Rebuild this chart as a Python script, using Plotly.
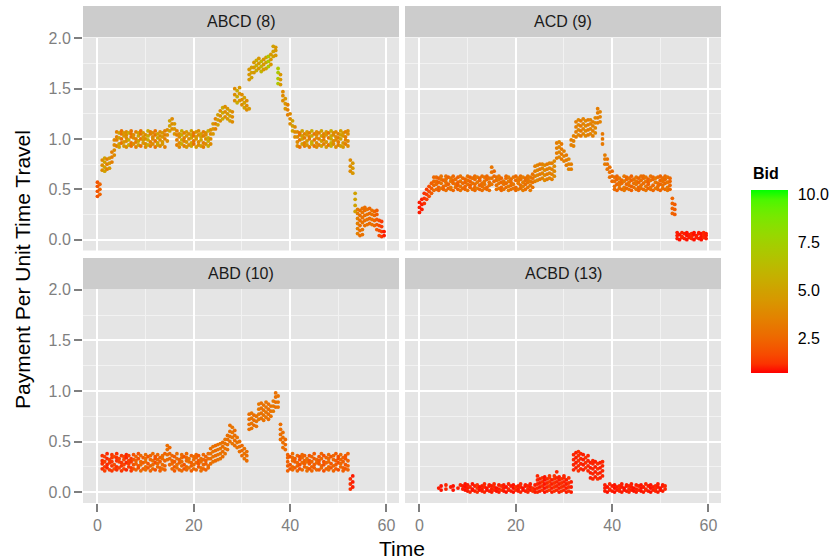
import plotly.graph_objects as go

# ---------------------------------------------------------------------------
# Observed payments per route: one row per time stamp, several agents per row
# ---------------------------------------------------------------------------
abcd_time = [
    0.0, 0.5, 1.0, 1.5, 2.0, 2.5, 3.0, 3.5,
    4.0, 4.5, 5.0, 5.5, 6.0, 6.5, 7.0, 7.5, 8.0, 8.5, 9.0, 9.5,
    10.0, 10.5, 11.0, 11.5, 12.0, 12.5, 13.0, 13.5, 14.0,
    14.5, 15.0, 15.5, 16.0, 16.5,
    17.0, 17.5, 18.0, 18.5, 19.0, 19.5, 20.0, 20.5, 21.0, 21.5,
    22.0, 22.5, 23.0, 23.5,
    24.0, 24.5, 25.0, 25.5, 26.0, 26.5, 27.0, 27.5, 28.0,
    28.5, 29.0, 29.5, 30.0, 30.5, 31.0, 31.5, 32.0, 32.5, 33.0,
    33.5, 34.0, 34.5, 35.0, 35.5, 36.0, 36.5, 37.0, 37.5, 38.0,
    38.5, 39.0, 39.5, 40.0, 40.5, 41.0,
    41.5, 42.0, 42.5, 43.0, 43.5, 44.0, 44.5, 45.0, 45.5, 46.0, 46.5,
    47.0, 47.5, 48.0, 48.5, 49.0, 49.5, 50.0, 50.5, 51.0, 51.5, 52.0,
    52.5, 53.0, 53.5,
    54.0, 54.5, 55.0, 55.5, 56.0, 56.5, 57.0, 57.5, 58.0, 58.5, 59.0, 59.5,
]
abcd_bid = [
    2.0, 2.5, 4.0, 5.0, 3.5, 4.5, 3.5, 4.0,
    3.5, 5.0, 3.0, 4.5, 4.0, 5.5, 3.0, 4.0, 3.5, 5.0, 3.0, 4.5,
    4.0, 5.5, 3.5, 4.0, 3.0, 5.0, 4.0, 4.5, 3.5,
    4.0, 5.0, 4.0, 4.5, 3.5,
    4.0, 5.5, 3.5, 4.5, 4.0, 5.0, 3.0, 4.5, 4.0, 5.0,
    3.5, 4.0, 5.5, 4.0,
    4.5, 3.5, 5.0, 4.0, 5.5, 4.0, 4.5, 5.0, 4.0,
    4.0, 5.5, 4.5, 4.0, 5.0, 4.0, 4.5, 5.0, 4.5, 5.5,
    4.5, 6.0, 4.5, 5.0, 7.0, 4.5, 5.0, 4.5, 7.0, 4.5,
    4.0, 4.5, 3.5, 4.0, 5.0, 4.0,
    4.0, 3.0, 5.0, 3.5, 4.5, 3.5, 5.5, 3.0, 4.0, 3.5, 5.0,
    3.5, 4.5, 3.0, 5.5, 4.0, 4.0, 3.5, 5.0, 4.5, 3.5, 4.0,
    4.0, 4.5, 5.0,
    3.5, 2.8, 3.0, 2.8, 3.0, 2.6, 3.0, 2.6, 2.2, 1.8, 1.4, 1.0,
]
abcd_pay = [
    [0.43, 0.48, 0.53, 0.57], [0.45, 0.50, 0.55], [0.69, 0.74, 0.79], [0.68, 0.72, 0.77, 0.81],
    [0.70, 0.75, 0.80], [0.71, 0.76, 0.81], [0.77, 0.82, 0.87], [0.84, 0.89, 0.94, 0.99],
    [0.93, 0.99, 1.02, 1.07], [0.92, 0.95, 1.01, 1.06], [0.96, 1.00, 1.05, 1.08], [0.93, 0.97, 1.03, 1.06],
    [0.92, 0.98, 1.01, 1.04, 1.07], [0.94, 0.99, 1.06], [0.93, 0.96, 1.02, 1.05, 1.08], [0.95, 1.01, 1.04],
    [0.92, 0.97, 1.00, 1.07], [0.94, 0.98, 1.03, 1.06], [0.93, 1.00, 1.05, 1.08], [0.96, 0.99, 1.02, 1.06],
    [0.92, 0.95, 1.00, 1.04], [0.94, 0.99, 1.03, 1.08], [0.93, 0.97, 1.05, 1.07], [0.95, 1.00, 1.02, 1.06],
    [0.92, 0.98, 1.04, 1.08], [0.94, 0.96, 1.01, 1.05], [0.93, 0.99, 1.03, 1.07], [0.95, 0.97, 1.02, 1.06],
    [0.92, 1.00, 1.04, 1.08],
    [0.98, 1.04, 1.09], [1.08, 1.13, 1.18], [1.10, 1.15, 1.20], [1.05, 1.10, 1.15], [0.94, 0.99, 1.04, 1.08],
    [0.92, 0.96, 1.02, 1.05], [0.95, 0.99, 1.04, 1.08], [0.93, 0.98, 1.01, 1.06], [0.92, 0.97, 1.03, 1.07],
    [0.94, 1.00, 1.05], [0.93, 0.96, 1.01, 1.04, 1.08], [0.95, 0.98, 1.03, 1.06], [0.92, 1.00, 1.02, 1.07],
    [0.94, 0.97, 1.04, 1.08], [0.93, 0.99, 1.02, 1.05],
    [0.92, 0.96, 1.03, 1.07], [0.95, 1.00, 1.04, 1.06], [0.93, 0.98, 1.01, 1.08], [0.95, 1.00, 1.05, 1.09],
    [1.05, 1.10, 1.15], [1.10, 1.15, 1.20], [1.14, 1.19, 1.24], [1.18, 1.23, 1.28], [1.20, 1.26, 1.31],
    [1.22, 1.27, 1.32], [1.20, 1.25, 1.30], [1.18, 1.23, 1.28], [1.17, 1.22, 1.27],
    [1.38, 1.44, 1.50], [1.36, 1.42, 1.48], [1.38, 1.45, 1.51], [1.34, 1.39, 1.44], [1.31, 1.36, 1.41],
    [1.29, 1.33, 1.38], [1.30, 1.59, 1.64, 1.69], [1.61, 1.66, 1.71], [1.66, 1.71, 1.76], [1.68, 1.73, 1.78],
    [1.70, 1.75, 1.80], [1.67, 1.72, 1.77], [1.69, 1.74, 1.79], [1.70, 1.76, 1.81], [1.72, 1.77, 1.82],
    [1.74, 1.79, 1.84], [1.82, 1.87, 1.92], [1.83, 1.88, 1.91], [1.55, 1.60, 1.66, 1.70], [1.54, 1.59, 1.64],
    [1.38, 1.43, 1.47], [1.30, 1.35, 1.40], [1.24, 1.29, 1.34], [1.15, 1.20, 1.25], [1.08, 1.13, 1.18],
    [1.02, 1.07, 1.12],
    [0.93, 0.97, 1.02, 1.07], [0.92, 0.99, 1.04, 1.06], [0.95, 1.00, 1.03, 1.08], [0.93, 0.96, 1.01, 1.05],
    [0.94, 0.98, 1.04, 1.07], [0.92, 1.00, 1.02, 1.06], [0.95, 0.97, 1.03, 1.08], [0.93, 0.99, 1.05],
    [0.92, 0.96, 1.01, 1.04, 1.07], [0.94, 1.00, 1.06], [0.93, 0.98, 1.03, 1.08],
    [0.95, 0.99, 1.02, 1.05], [0.92, 0.97, 1.04, 1.07], [0.94, 1.01, 1.06], [0.93, 0.96, 1.00, 1.03, 1.08],
    [0.95, 0.98, 1.04, 1.06], [0.92, 0.99, 1.02, 1.07], [0.94, 0.97, 1.01, 1.05], [0.93, 1.00, 1.04, 1.08],
    [0.92, 0.96, 1.03, 1.06], [0.95, 0.99, 1.02, 1.07], [0.93, 0.98, 1.05, 1.08],
    [0.68, 0.73, 0.79], [0.66, 0.71, 0.76], [0.28, 0.34, 0.40, 0.46],
    [0.06, 0.11, 0.16, 0.21, 0.26, 0.30], [0.04, 0.09, 0.14, 0.19, 0.24, 0.29],
    [0.05, 0.10, 0.17, 0.22, 0.27, 0.31], [0.14, 0.19, 0.24, 0.29, 0.32], [0.15, 0.20, 0.25, 0.30],
    [0.16, 0.21, 0.26, 0.31], [0.15, 0.20, 0.25, 0.29], [0.14, 0.19, 0.24, 0.28],
    [0.10, 0.15, 0.20, 0.25, 0.29], [0.04, 0.09, 0.14, 0.19], [0.03, 0.08, 0.13, 0.18], [0.04, 0.08],
]

acd_time = [
    0.0, 0.5, 1.0, 1.5, 2.0, 2.5, 3.0,
    3.5, 4.0, 4.5, 5.0, 5.5, 6.0, 6.5, 7.0, 7.5, 8.0, 8.5, 9.0,
    9.5, 10.0, 10.5, 11.0, 11.5, 12.0, 12.5, 13.0, 13.5, 14.0, 14.5,
    15.0, 15.5,
    16.0, 16.5, 17.0, 17.5, 18.0, 18.5, 19.0, 19.5,
    20.0, 20.5, 21.0, 21.5, 22.0, 22.5, 23.0, 23.5,
    24.0, 24.5, 25.0, 25.5, 26.0, 26.5, 27.0, 27.5, 28.0,
    28.5, 29.0, 29.5, 30.0, 30.5, 31.0, 31.5, 32.0,
    32.5, 33.0, 33.5, 34.0, 34.5, 35.0, 35.5, 36.0, 36.5, 37.0, 37.5,
    38.0, 38.5, 39.0, 39.5, 40.0,
    40.5, 41.0, 41.5, 42.0, 42.5, 43.0, 43.5, 44.0, 44.5, 45.0, 45.5, 46.0,
    46.5, 47.0, 47.5, 48.0, 48.5, 49.0, 49.5, 50.0, 50.5, 51.0, 51.5, 52.0,
    52.5, 53.0,
    53.5, 54.0, 54.5, 55.0, 55.5, 56.0, 56.5, 57.0, 57.5, 58.0, 58.5, 59.0, 59.5,
]
acd_bid = [
    1.0, 1.0, 1.2, 1.4, 1.8, 2.2, 2.6,
    2.7, 2.3, 3.0, 2.5, 2.9, 2.4, 3.1, 2.6, 2.8, 2.3, 3.0, 2.7,
    2.5, 3.0, 2.4, 2.9, 2.7, 3.2, 2.5, 2.8, 3.0, 2.6, 2.9,
    3.1, 2.7,
    2.9, 3.2, 2.6, 3.0, 2.7, 3.3, 2.8, 3.1,
    2.7, 3.2, 2.9, 3.4, 2.8, 3.1, 3.3, 3.0,
    3.4, 3.8, 3.2, 3.6, 4.0, 3.3, 3.7, 3.5, 3.9,
    3.4, 3.8, 3.2, 3.6, 3.3, 3.7, 3.5, 3.6,
    3.4, 3.8, 3.2, 3.6, 3.9, 3.3, 3.7, 3.5, 3.8, 3.4, 3.6,
    3.2, 3.4, 3.0, 2.9, 2.7,
    2.9, 2.5, 3.1, 2.7, 3.2, 2.6, 3.0, 2.4, 2.8, 3.1, 2.5, 2.9,
    2.7, 3.1, 2.4, 3.0, 2.6, 3.2, 2.8, 2.5, 2.9, 2.7, 3.1, 2.6,
    2.5, 2.2,
    1.0, 0.9, 1.1, 1.0, 0.9, 1.0, 1.1, 0.9, 1.0, 1.0, 0.9, 1.1, 1.0,
]
acd_pay = [
    [0.27, 0.32, 0.37], [0.30, 0.35, 0.40], [0.36, 0.41, 0.46], [0.40, 0.45, 0.50],
    [0.43, 0.48, 0.53], [0.46, 0.51, 0.56], [0.49, 0.54, 0.58, 0.62],
    [0.50, 0.55, 0.58, 0.62], [0.49, 0.52, 0.57, 0.61], [0.51, 0.56, 0.60, 0.63], [0.50, 0.53, 0.59],
    [0.49, 0.54, 0.57, 0.60, 0.63], [0.51, 0.55, 0.62], [0.50, 0.52, 0.58, 0.61], [0.49, 0.56, 0.59, 0.63],
    [0.52, 0.55, 0.60], [0.50, 0.54, 0.57, 0.62], [0.49, 0.53, 0.58, 0.63], [0.51, 0.56, 0.61],
    [0.50, 0.53, 0.57, 0.60], [0.49, 0.55, 0.59, 0.63], [0.52, 0.54, 0.58, 0.62], [0.50, 0.56, 0.61],
    [0.49, 0.52, 0.55, 0.60, 0.63], [0.51, 0.57, 0.62], [0.50, 0.54, 0.59, 0.61], [0.49, 0.53, 0.56, 0.63],
    [0.51, 0.55, 0.58, 0.62], [0.50, 0.52, 0.60, 0.63], [0.49, 0.54, 0.57, 0.61],
    [0.55, 0.61, 0.67, 0.72], [0.58, 0.63, 0.68],
    [0.50, 0.54, 0.59, 0.62], [0.51, 0.56, 0.60, 0.63], [0.49, 0.52, 0.57, 0.61], [0.50, 0.55, 0.58],
    [0.52, 0.56, 0.61, 0.63], [0.49, 0.53, 0.58, 0.62], [0.50, 0.54, 0.57, 0.60], [0.51, 0.55, 0.62],
    [0.49, 0.52, 0.59, 0.63], [0.50, 0.56, 0.58, 0.61], [0.51, 0.54, 0.60, 0.63], [0.49, 0.53, 0.57, 0.62],
    [0.50, 0.55, 0.59, 0.61], [0.52, 0.57, 0.60, 0.63], [0.49, 0.54, 0.58, 0.62], [0.52, 0.57, 0.61, 0.65],
    [0.58, 0.63, 0.68, 0.73], [0.59, 0.64, 0.69, 0.74], [0.60, 0.65, 0.70, 0.75], [0.61, 0.66, 0.71, 0.75],
    [0.59, 0.64, 0.69, 0.74], [0.60, 0.65, 0.70, 0.75], [0.61, 0.66, 0.71, 0.76], [0.60, 0.65, 0.70, 0.76],
    [0.63, 0.68, 0.73, 0.78],
    [0.81, 0.86, 0.91, 0.96], [0.82, 0.87, 0.92, 0.97], [0.80, 0.85, 0.90, 0.95], [0.78, 0.83, 0.88],
    [0.74, 0.79, 0.84], [0.70, 0.75, 0.80], [0.70, 0.75, 0.94, 0.99], [0.93, 0.98, 1.03],
    [1.02, 1.07, 1.12, 1.17], [1.04, 1.09, 1.14, 1.19], [1.03, 1.08, 1.13, 1.18], [1.05, 1.10, 1.15, 1.20],
    [1.03, 1.08, 1.13, 1.18], [1.04, 1.09, 1.14, 1.19], [1.05, 1.10, 1.15, 1.19], [1.03, 1.08, 1.13, 1.17],
    [1.06, 1.11, 1.16, 1.21], [1.16, 1.21, 1.26, 1.30], [1.17, 1.22, 1.27],
    [0.95, 1.00, 1.05], [0.75, 0.80, 0.84], [0.70, 0.75, 0.80], [0.62, 0.67, 0.72], [0.58, 0.63, 0.68],
    [0.50, 0.53, 0.58, 0.62], [0.49, 0.55, 0.60, 0.63], [0.51, 0.54, 0.57, 0.61], [0.50, 0.56, 0.59],
    [0.49, 0.52, 0.58, 0.63], [0.51, 0.55, 0.60, 0.62], [0.50, 0.54, 0.57, 0.61], [0.49, 0.53, 0.59, 0.63],
    [0.52, 0.56, 0.60], [0.50, 0.55, 0.58, 0.62], [0.49, 0.52, 0.57, 0.61], [0.51, 0.54, 0.59, 0.63],
    [0.50, 0.56, 0.61, 0.63], [0.49, 0.53, 0.58, 0.62], [0.51, 0.55, 0.57, 0.60], [0.50, 0.52, 0.59, 0.63],
    [0.49, 0.54, 0.60, 0.62], [0.51, 0.57, 0.61], [0.50, 0.53, 0.56, 0.62], [0.49, 0.55, 0.59, 0.63],
    [0.51, 0.54, 0.58, 0.61], [0.50, 0.56, 0.60, 0.63], [0.49, 0.52, 0.57, 0.62], [0.50, 0.54, 0.58, 0.61],
    [0.26, 0.31, 0.36, 0.41], [0.25, 0.30, 0.35],
    [0.01, 0.04, 0.07], [0.00, 0.05], [0.02, 0.03, 0.07], [0.01, 0.06], [0.00, 0.04, 0.07],
    [0.02, 0.05], [0.01, 0.03, 0.06], [0.00, 0.05, 0.07], [0.02, 0.04], [0.01, 0.06, 0.07],
    [0.00, 0.03, 0.06], [0.02, 0.05, 0.07], [0.01, 0.04, 0.06],
]

abd_time = [
    1.0, 1.5, 2.0, 2.5, 3.0, 3.5, 4.0, 4.5, 5.0, 5.5, 6.0, 6.5, 7.0, 7.5,
    8.0, 8.5, 9.0, 9.5, 10.0, 10.5, 11.0, 11.5, 12.0, 12.5, 13.0, 13.5, 14.0,
    14.5, 15.0,
    15.5, 16.0, 16.5, 17.0, 17.5, 18.0, 18.5, 19.0, 19.5, 20.0, 20.5, 21.0, 21.5, 22.0, 22.5, 23.0,
    23.5, 24.0, 24.5, 25.0, 25.5, 26.0, 26.5, 27.0,
    27.5, 28.0, 28.5, 29.0, 29.5, 30.0, 30.5, 31.0,
    31.5, 32.0, 32.5, 33.0, 33.5, 34.0, 34.5, 35.0, 35.5, 36.0, 36.5, 37.0, 37.5,
    38.0, 38.5, 39.0,
    39.5, 40.0, 40.5, 41.0, 41.5, 42.0, 42.5, 43.0, 43.5, 44.0, 44.5, 45.0, 45.5,
    46.0, 46.5, 47.0, 47.5, 48.0, 48.5, 49.0, 49.5, 50.0, 50.5, 51.0, 51.5, 52.0,
    52.5, 53.0,
]
abd_bid = [
    1.2, 1.5, 1.1, 1.4, 1.3, 1.7, 1.2, 1.5, 1.3, 1.6, 1.1, 1.5, 1.4, 1.9,
    2.4, 1.8, 2.6, 2.2, 2.8, 2.0, 2.5, 2.7, 1.9, 2.6, 2.3, 2.8, 2.4,
    2.8, 2.6,
    2.6, 2.2, 2.8, 2.4, 2.7, 2.0, 2.6, 2.9, 2.3, 2.7, 2.5, 2.1, 2.8, 2.6, 2.4, 2.7,
    2.8, 3.0, 2.7, 2.9, 3.1, 2.8, 3.0, 2.9,
    2.9, 3.1, 2.8, 3.0, 2.9, 2.7, 3.0, 2.8,
    2.9, 3.1, 2.8, 3.0, 3.2, 2.9, 3.0, 3.1, 2.8, 3.0, 3.2, 2.9, 3.0,
    2.8, 2.9, 2.7,
    2.4, 2.0, 2.7, 2.2, 2.5, 1.8, 2.6, 2.3, 2.8, 2.0, 2.5, 2.2, 2.6,
    2.1, 2.6, 1.9, 2.4, 2.7, 2.0, 2.5, 2.2, 1.8, 2.6, 2.3, 2.0, 2.4,
    1.2, 1.0,
]
abd_pay = [
    [0.23, 0.28, 0.31, 0.36], [0.21, 0.25, 0.30, 0.35], [0.24, 0.27, 0.33, 0.38], [0.22, 0.29, 0.32],
    [0.21, 0.26, 0.30, 0.34, 0.37], [0.23, 0.27, 0.35], [0.22, 0.25, 0.31, 0.34, 0.38], [0.24, 0.30, 0.33],
    [0.21, 0.26, 0.29, 0.36], [0.23, 0.27, 0.32, 0.35], [0.22, 0.29, 0.34, 0.37], [0.25, 0.28, 0.31, 0.36],
    [0.21, 0.24, 0.30, 0.33], [0.23, 0.27, 0.32, 0.37],
    [0.22, 0.28, 0.31, 0.35], [0.24, 0.26, 0.33, 0.38], [0.21, 0.27, 0.30, 0.36], [0.23, 0.29, 0.34],
    [0.22, 0.25, 0.30, 0.33, 0.37], [0.24, 0.28, 0.35], [0.21, 0.26, 0.32, 0.36], [0.23, 0.27, 0.31, 0.38],
    [0.22, 0.29, 0.33, 0.35], [0.25, 0.28, 0.32, 0.37], [0.21, 0.24, 0.30, 0.34], [0.23, 0.27, 0.33, 0.36],
    [0.22, 0.26, 0.31, 0.38],
    [0.32, 0.37, 0.42, 0.46], [0.27, 0.33, 0.38, 0.44],
    [0.23, 0.28, 0.31, 0.36], [0.21, 0.25, 0.30, 0.35], [0.24, 0.27, 0.33, 0.38], [0.22, 0.29, 0.32],
    [0.21, 0.26, 0.30, 0.34, 0.37], [0.23, 0.27, 0.35], [0.22, 0.25, 0.31, 0.34, 0.38], [0.24, 0.30, 0.33],
    [0.21, 0.26, 0.29, 0.36], [0.23, 0.27, 0.32, 0.35], [0.22, 0.29, 0.34, 0.37], [0.25, 0.28, 0.31, 0.36],
    [0.21, 0.24, 0.30, 0.33], [0.23, 0.27, 0.32, 0.37], [0.22, 0.28, 0.31, 0.35], [0.24, 0.26, 0.33, 0.38],
    [0.28, 0.33, 0.38, 0.43], [0.30, 0.35, 0.40, 0.45], [0.31, 0.36, 0.41, 0.46], [0.32, 0.37, 0.42, 0.47],
    [0.33, 0.38, 0.43, 0.48], [0.35, 0.40, 0.45, 0.49], [0.38, 0.43, 0.48, 0.52], [0.42, 0.47, 0.52, 0.56],
    [0.50, 0.55, 0.60, 0.66], [0.48, 0.54, 0.59, 0.64], [0.46, 0.51, 0.56, 0.61], [0.44, 0.49, 0.54],
    [0.40, 0.45, 0.50], [0.36, 0.41, 0.46], [0.33, 0.38, 0.43], [0.31, 0.36, 0.40],
    [0.62, 0.67, 0.72, 0.77], [0.63, 0.68, 0.73, 0.78], [0.66, 0.71, 0.76], [0.65, 0.70, 0.75],
    [0.72, 0.77, 0.82, 0.87], [0.73, 0.78, 0.83, 0.88], [0.71, 0.76, 0.81, 0.86], [0.74, 0.79, 0.84, 0.89],
    [0.72, 0.77, 0.82, 0.87], [0.75, 0.80, 0.85], [0.80, 0.85, 0.90], [0.84, 0.89, 0.94, 0.98],
    [0.84, 0.89, 0.95],
    [0.52, 0.57, 0.62, 0.67], [0.44, 0.49, 0.54, 0.59], [0.42, 0.47, 0.52],
    [0.21, 0.26, 0.30, 0.34, 0.37], [0.23, 0.27, 0.35], [0.22, 0.25, 0.31, 0.34, 0.38], [0.24, 0.30, 0.33],
    [0.21, 0.26, 0.29, 0.36], [0.23, 0.27, 0.32, 0.35], [0.22, 0.29, 0.34, 0.37], [0.25, 0.28, 0.31, 0.36],
    [0.21, 0.24, 0.30, 0.33], [0.23, 0.28, 0.31, 0.36], [0.21, 0.25, 0.30, 0.35], [0.24, 0.27, 0.33, 0.38],
    [0.22, 0.29, 0.32],
    [0.22, 0.28, 0.31, 0.35], [0.24, 0.26, 0.33, 0.38], [0.21, 0.27, 0.30, 0.36], [0.23, 0.29, 0.34],
    [0.22, 0.25, 0.30, 0.33, 0.37], [0.24, 0.28, 0.35], [0.21, 0.26, 0.32, 0.36], [0.23, 0.27, 0.31, 0.38],
    [0.22, 0.29, 0.33, 0.35], [0.25, 0.28, 0.32, 0.37], [0.21, 0.24, 0.30, 0.34], [0.23, 0.27, 0.33, 0.36],
    [0.22, 0.26, 0.31, 0.38],
    [0.03, 0.08, 0.13], [0.05, 0.10, 0.16],
]

acbd_time = [
    4.0, 4.5, 5.5, 6.5, 7.0, 8.0, 8.5, 9.0, 9.5,
    10.0, 10.5, 11.0, 11.5, 12.0, 12.5, 13.0, 13.5, 14.0, 14.5, 15.0, 15.5, 16.0, 16.5, 17.0,
    17.5, 18.0, 18.5, 19.0, 19.5, 20.0, 20.5, 21.0, 21.5, 22.0, 22.5, 23.0, 23.5, 24.0,
    24.5, 25.0, 25.5, 26.0, 26.5, 27.0, 27.5, 28.0, 28.5, 29.0, 29.5, 30.0, 30.5, 31.0,
    31.5,
    32.0, 32.5, 33.0, 33.5, 34.0, 34.5, 35.0,
    35.5, 36.0, 36.5, 37.0, 37.5, 38.0,
    38.5, 39.0, 39.5, 40.0, 40.5, 41.0, 41.5, 42.0, 42.5, 43.0, 43.5, 44.0, 44.5,
    45.0, 45.5, 46.0, 46.5, 47.0, 47.5, 48.0, 48.5, 49.0, 49.5, 50.0, 50.5, 51.0,
]
acbd_bid = [
    1.0, 0.9, 1.1, 1.0, 0.9, 1.0, 1.1, 1.0, 0.9,
    1.0, 1.1, 0.9, 1.0, 1.2, 0.9, 1.0, 1.1, 0.9, 1.0, 1.0, 1.1, 0.9, 1.0, 1.2,
    1.0, 0.9, 1.1, 1.0, 0.9, 1.2, 1.0, 1.1, 0.9, 1.0, 1.1, 1.0, 1.2, 1.0,
    1.1, 1.0, 1.2, 0.9, 1.1, 1.3, 1.0, 1.2, 1.1, 1.0, 1.2, 1.1, 1.0, 1.2,
    1.0,
    1.1, 1.0, 1.2, 1.1, 1.0, 1.2, 1.1,
    1.0, 1.1, 1.0, 1.2, 1.0, 1.1,
    1.0, 0.9, 1.1, 1.0, 0.9, 1.0, 1.1, 1.0, 0.9, 1.0, 1.1, 1.0, 0.9,
    1.0, 1.1, 0.9, 1.0, 1.1, 1.0, 0.9, 1.0, 1.1, 1.0, 0.9, 1.0, 1.1,
]
acbd_pay = [
    [0.04], [0.02, 0.06], [0.03, 0.07], [0.05], [0.02, 0.06], [0.04], [0.07], [0.03, 0.06], [0.02, 0.05, 0.08],
    [0.01, 0.04, 0.07], [0.00, 0.05], [0.02, 0.03, 0.08], [0.01, 0.06], [0.00, 0.04, 0.07],
    [0.02, 0.05], [0.01, 0.03, 0.06], [0.00, 0.05, 0.08], [0.02, 0.04], [0.01, 0.06, 0.07],
    [0.00, 0.03, 0.06], [0.02, 0.05, 0.08], [0.01, 0.04], [0.00, 0.03, 0.07], [0.02, 0.06],
    [0.01, 0.04, 0.07], [0.00, 0.05], [0.02, 0.03, 0.08], [0.01, 0.06], [0.00, 0.04, 0.07],
    [0.02, 0.05], [0.01, 0.03, 0.06], [0.00, 0.05, 0.08], [0.02, 0.04], [0.01, 0.06, 0.07],
    [0.00, 0.03, 0.06], [0.02, 0.05, 0.08], [0.01, 0.04], [0.00, 0.03, 0.07],
    [0.00, 0.04, 0.08, 0.12, 0.16], [0.01, 0.05, 0.09, 0.13], [0.02, 0.06, 0.10, 0.14],
    [0.00, 0.04, 0.08, 0.12, 0.15], [0.01, 0.05, 0.09, 0.13], [0.02, 0.06, 0.10, 0.14, 0.16],
    [0.00, 0.04, 0.08, 0.12], [0.01, 0.05, 0.09, 0.13, 0.16], [0.02, 0.06, 0.10, 0.14, 0.20],
    [0.00, 0.04, 0.08, 0.12, 0.15], [0.01, 0.05, 0.09, 0.13], [0.02, 0.06, 0.10, 0.14, 0.16],
    [0.00, 0.04, 0.08, 0.12], [0.01, 0.05, 0.09, 0.14],
    [0.00, 0.05, 0.10],
    [0.22, 0.27, 0.32, 0.37], [0.24, 0.29, 0.34, 0.39], [0.21, 0.26, 0.31, 0.36, 0.40],
    [0.23, 0.28, 0.33, 0.38], [0.22, 0.27, 0.32, 0.37], [0.24, 0.29, 0.34], [0.21, 0.26, 0.31, 0.36],
    [0.14, 0.19, 0.24, 0.29], [0.13, 0.18, 0.23, 0.28, 0.31], [0.15, 0.20, 0.25, 0.30],
    [0.13, 0.18, 0.23, 0.28], [0.14, 0.19, 0.24, 0.29], [0.16, 0.21, 0.26, 0.30],
    [0.01, 0.04, 0.07], [0.00, 0.05], [0.02, 0.03, 0.08], [0.01, 0.06], [0.00, 0.04, 0.07],
    [0.02, 0.05], [0.01, 0.03, 0.06], [0.00, 0.05, 0.08], [0.02, 0.04], [0.01, 0.06, 0.07],
    [0.00, 0.03, 0.06], [0.02, 0.05, 0.08], [0.01, 0.04],
    [0.00, 0.03, 0.07], [0.02, 0.06], [0.01, 0.04, 0.07], [0.00, 0.05], [0.02, 0.03, 0.08],
    [0.01, 0.06], [0.00, 0.04, 0.07], [0.02, 0.05], [0.01, 0.03, 0.06], [0.00, 0.05, 0.08],
    [0.02, 0.04], [0.01, 0.06, 0.07], [0.03, 0.06],
]

panel_titles = ["ABCD (8)", "ACD (9)", "ABD (10)", "ACBD (13)"]
x_ticks = [0, 20, 40, 60]
y_ticks = [0.0, 0.5, 1.0, 1.5, 2.0]
bid_ticks = [2.5, 5.0, 7.5, 10.0]
bid_range = [0.75, 10.25]

# ---------------------------------------------------------------------------
# Colour scale: red -> green interpolated in CIE Lab space
# ---------------------------------------------------------------------------
def _lin(c):
    c = c / 255.0
    return c / 12.92 if c <= 0.04045 else ((c + 0.055) / 1.055) ** 2.4


def _gam(c):
    c = 12.92 * c if c <= 0.0031308 else 1.055 * c ** (1 / 2.4) - 0.055
    return max(0, min(255, round(c * 255)))


WHITE = (0.95047, 1.0, 1.08883)


def rgb_to_lab(rgb):
    r, g, b = (_lin(v) for v in rgb)
    xyz = (0.4124 * r + 0.3576 * g + 0.1805 * b,
           0.2126 * r + 0.7152 * g + 0.0722 * b,
           0.0193 * r + 0.1192 * g + 0.9505 * b)
    d = 6 / 29

    def f(t):
        return t ** (1 / 3) if t > d ** 3 else t / (3 * d * d) + 4 / 29

    fx_, fy_, fz_ = (f(v / w) for v, w in zip(xyz, WHITE))
    return (116 * fy_ - 16, 500 * (fx_ - fy_), 200 * (fy_ - fz_))


def lab_to_rgb(lab):
    L, a, bb = lab
    fy_ = (L + 16) / 116
    fx_ = fy_ + a / 500
    fz_ = fy_ - bb / 200
    d = 6 / 29

    def finv(t):
        return t ** 3 if t > d else 3 * d * d * (t - 4 / 29)

    x, y, z = (finv(t) * w for t, w in zip((fx_, fy_, fz_), WHITE))
    r = 3.2406 * x - 1.5372 * y - 0.4986 * z
    g = -0.9689 * x + 1.8758 * y + 0.0415 * z
    b = 0.0557 * x - 0.2040 * y + 1.0570 * z
    return tuple(_gam(max(0.0, v)) for v in (r, g, b))


low_lab = rgb_to_lab((255, 0, 0))
high_lab = rgb_to_lab((0, 255, 0))
colorscale = []
for i in range(21):
    f = i / 20
    lab = tuple(lo + (hi - lo) * f for lo, hi in zip(low_lab, high_lab))
    r, g, b = lab_to_rgb(lab)
    colorscale.append([f, f"rgb({r},{g},{b})"])

# ---------------------------------------------------------------------------
# Layout geometry (pixels)
# ---------------------------------------------------------------------------
W, H = 839, 560
FONT = "Liberation Sans, Arial, sans-serif"
col_px = [(83, 399), (405, 721)]
row_px = [(37.5, 250.5), (289, 503)]
strip_px = [(6, 37), (258, 289)]


def fx(p):
    return p / W


def fy(p):
    return 1 - p / H


def flatten(times, bids, pays):
    assert len(times) == len(bids) == len(pays)
    xs, ys, cs = [], [], []
    for t, b, row in zip(times, bids, pays):
        for v in row:
            xs.append(t)
            ys.append(v)
            cs.append(b)
    return xs, ys, cs


panels = [
    (abcd_time, abcd_bid, abcd_pay),
    (acd_time, acd_bid, acd_pay),
    (abd_time, abd_bid, abd_pay),
    (acbd_time, acbd_bid, acbd_pay),
]

fig = go.Figure()
layout_axes = {}
shapes = []
annotations = []

for i, (times, bids, pays) in enumerate(panels):
    r, c = divmod(i, 2)
    xs, ys, cs = flatten(times, bids, pays)
    suffix = "" if i == 0 else str(i + 1)
    fig.add_trace(go.Scatter(
        x=xs, y=ys, mode="markers",
        xaxis="x" + suffix, yaxis="y" + suffix,
        marker=dict(size=3.8, color=cs, coloraxis="coloraxis", line=dict(width=0)),
        showlegend=False, hoverinfo="skip",
    ))
    x0, x1 = col_px[c]
    y0, y1 = row_px[r]
    bottom = r == 1
    left = c == 0
    layout_axes["xaxis" + suffix] = dict(
        domain=[fx(x0), fx(x1)], anchor="y" + suffix, automargin=False,
        range=[-3.0, 62.6], tickmode="array", tickvals=x_ticks,
        showgrid=True, gridcolor="white", gridwidth=2,
        minor=dict(dtick=10, tick0=0, showgrid=True, gridcolor="#F2F2F2", gridwidth=1),
        zeroline=False, showline=False,
        ticks="outside" if bottom else "", ticklen=8, tickwidth=2, tickcolor="#7F7F7F",
        showticklabels=bottom,
        tickfont=dict(family=FONT, size=16, color="#7F7F7F"),
        fixedrange=True,
    )
    layout_axes["yaxis" + suffix] = dict(
        domain=[fy(y1), fy(y0)], anchor="x" + suffix, automargin=False,
        range=[-0.108, 2.008], tickmode="array", tickvals=y_ticks,
        tickformat=".1f",
        showgrid=True, gridcolor="white", gridwidth=2,
        minor=dict(dtick=0.25, tick0=0, showgrid=True, gridcolor="#F2F2F2", gridwidth=1),
        zeroline=False, showline=False,
        ticks="outside" if left else "", ticklen=8, tickwidth=2, tickcolor="#7F7F7F",
        showticklabels=left,
        tickfont=dict(family=FONT, size=16, color="#7F7F7F"),
        fixedrange=True,
    )
    s0, s1 = strip_px[r]
    shapes.append(dict(type="rect", xref="paper", yref="paper",
                       x0=fx(x0), x1=fx(x1), y0=fy(s1), y1=fy(s0),
                       fillcolor="#CCCCCC", line=dict(width=0), layer="below"))
    annotations.append(dict(text=panel_titles[i], xref="paper", yref="paper",
                            x=fx((x0 + x1) / 2), y=fy((s0 + s1) / 2),
                            xanchor="center", yanchor="middle", showarrow=False,
                            font=dict(family=FONT, size=16, color="#1A1A1A")))

# axis titles
annotations.append(dict(text="Time", xref="paper", yref="paper",
                        x=fx(402), y=fy(548), xanchor="center", yanchor="middle",
                        showarrow=False, font=dict(family=FONT, size=21, color="black")))
annotations.append(dict(text="Payment Per Unit Time Travel", xref="paper", yref="paper",
                        x=fx(22), y=fy(270), xanchor="center", yanchor="middle",
                        textangle=-90, showarrow=False,
                        font=dict(family=FONT, size=21, color="black")))

# colour bar geometry and its white tick marks
bar_left, bar_w = 751, 37
bar_top, bar_bot = 189.3, 372.7
for v in bid_ticks:
    yp = bar_top + (bid_range[1] - v) / (bid_range[1] - bid_range[0]) * (bar_bot - bar_top)
    for xa, xb in ((bar_left, bar_left + 7), (bar_left + bar_w - 7, bar_left + bar_w)):
        shapes.append(dict(type="line", xref="paper", yref="paper",
                           x0=fx(xa), x1=fx(xb), y0=fy(yp), y1=fy(yp),
                           line=dict(color="white", width=1)))

annotations.append(dict(text="<b>Bid</b>", xref="paper", yref="paper",
                        x=fx(bar_left), y=fy(173), xanchor="left", yanchor="middle",
                        showarrow=False, font=dict(family=FONT, size=16, color="black")))

fig.update_layout(
    template="none",
    width=W, height=H,
    margin=dict(l=0, r=0, t=0, b=0, autoexpand=False),
    paper_bgcolor="white", plot_bgcolor="#E5E5E5",
    font=dict(family=FONT),
    shapes=shapes, annotations=annotations,
    coloraxis=dict(
        colorscale=colorscale, cmin=bid_range[0], cmax=bid_range[1],
        colorbar=dict(
            x=fx(bar_left), xanchor="left", xref="paper", xpad=0,
            y=fy((bar_top + bar_bot) / 2), yanchor="middle", yref="paper", ypad=0,
            len=bar_bot - bar_top, lenmode="pixels",
            thickness=bar_w, thicknessmode="pixels",
            outlinewidth=0, tickmode="array", tickvals=bid_ticks,
            ticktext=["2.5", "5.0", "7.5", "10.0"],
            ticks="outside", ticklen=7, tickcolor="rgba(0,0,0,0)",
            tickfont=dict(family=FONT, size=16, color="black"),
        ),
    ),
    **layout_axes,
)

fig.write_html("out.html")
